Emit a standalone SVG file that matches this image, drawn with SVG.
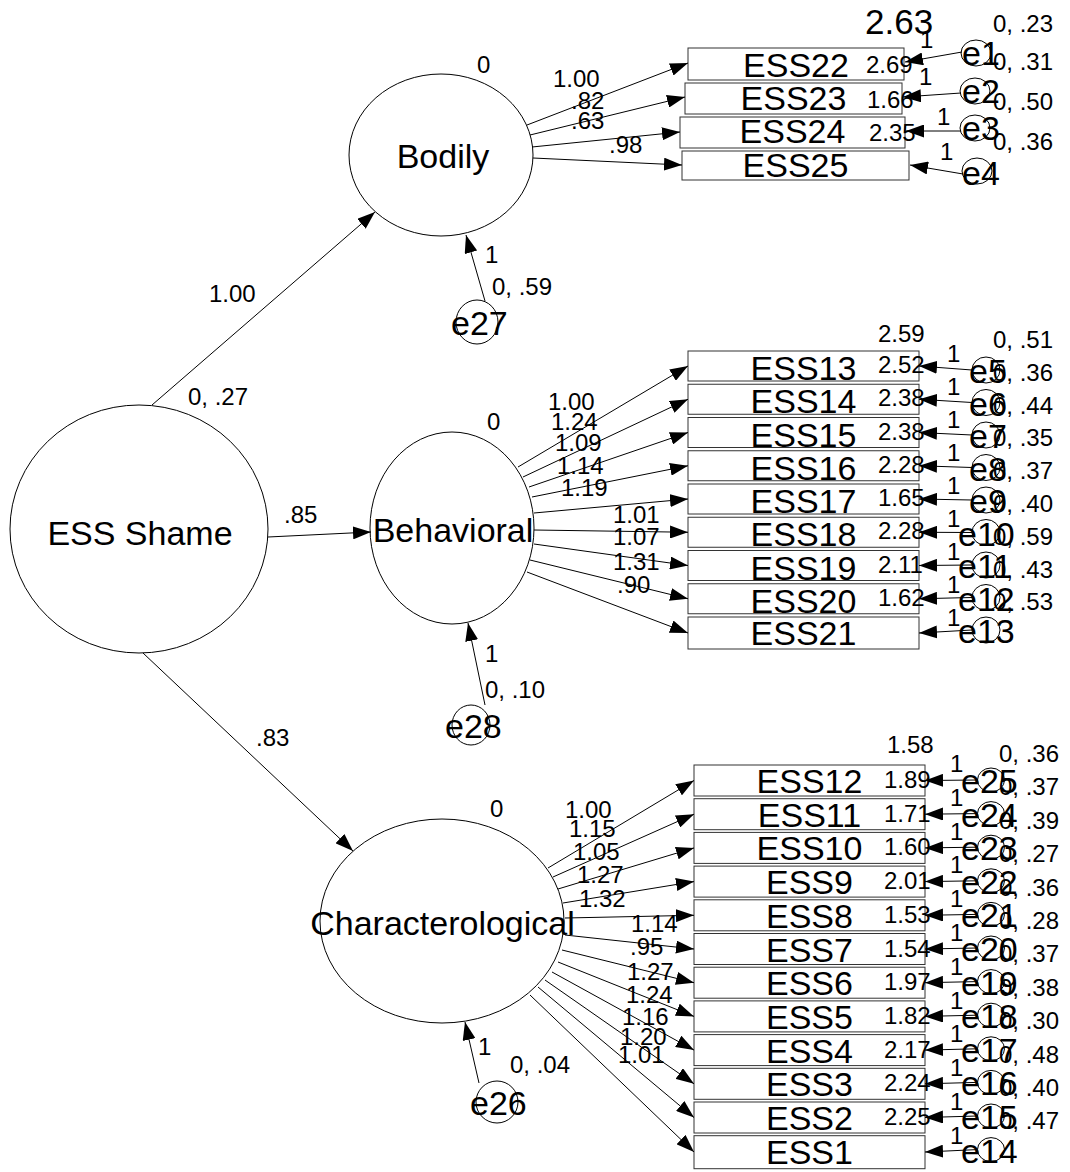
<svg xmlns="http://www.w3.org/2000/svg" width="1070" height="1172" viewBox="0 0 1070 1172">
<defs>
<marker id="ah" markerUnits="userSpaceOnUse" viewBox="0 0 18 13" refX="18" refY="6.5" markerWidth="18" markerHeight="13" orient="auto">
<path d="M0,0 L18,6.5 L0,13 z" fill="#000"/>
</marker>
<style>
text{font-family:"Liberation Sans",Arial,sans-serif;fill:#000}
.L{font-size:34px}
.s{font-size:24px}
.m{text-anchor:middle}
ellipse{fill:#fff;stroke:#000;stroke-width:1}
.eo{fill:none}
rect{fill:#fff;stroke:#333;stroke-width:1}
.c line{stroke:#000;stroke-width:1;marker-end:url(#ah)}
</style>
</defs>
<rect x="0" y="0" width="1070" height="1172" style="stroke:none;fill:#fff"/>

<!-- latent nodes -->
<g id="shame"><ellipse cx="139" cy="529" rx="129" ry="124"/><text class="L m" x="140" y="545">ESS Shame</text></g>
<g id="bodily"><ellipse cx="441" cy="155" rx="92" ry="81"/><text class="L m" x="443" y="168">Bodily</text></g>
<g id="behavioral"><ellipse cx="452" cy="528" rx="82" ry="96"/><text class="L m" x="453" y="542">Behavioral</text></g>
<g id="characterological"><ellipse cx="442" cy="921" rx="122" ry="102"/><text class="L m" x="442.5" y="935">Characterological</text></g>

<!-- boxes: Bodily -->
<g id="ESS22"><rect x="688" y="48" width="216" height="32"/><text class="L m" x="796" y="77">ESS22</text></g>
<g id="ESS23"><rect x="685" y="83" width="217" height="31"/><text class="L m" x="793.5" y="110">ESS23</text></g>
<g id="ESS24"><rect x="680" y="117" width="225" height="31"/><text class="L m" x="792.5" y="143">ESS24</text></g>
<g id="ESS25"><rect x="682" y="151" width="227" height="29"/><text class="L m" x="795.5" y="177">ESS25</text></g>

<!-- boxes: Behavioral -->
<g id="ESS13"><rect x="688" y="351" width="231" height="30"/><text class="L m" x="803.5" y="380">ESS13</text></g>
<g id="ESS14"><rect x="688" y="384.25" width="231" height="30"/><text class="L m" x="803.5" y="413">ESS14</text></g>
<g id="ESS15"><rect x="688" y="417.5" width="231" height="30"/><text class="L m" x="803.5" y="446.5">ESS15</text></g>
<g id="ESS16"><rect x="688" y="450.75" width="231" height="30"/><text class="L m" x="803.5" y="479.75">ESS16</text></g>
<g id="ESS17"><rect x="688" y="484" width="231" height="30"/><text class="L m" x="803.5" y="513">ESS17</text></g>
<g id="ESS18"><rect x="688" y="517.25" width="231" height="30"/><text class="L m" x="803.5" y="546.25">ESS18</text></g>
<g id="ESS19"><rect x="688" y="550.5" width="231" height="30"/><text class="L m" x="803.5" y="579.5">ESS19</text></g>
<g id="ESS20"><rect x="688" y="583.75" width="231" height="30"/><text class="L m" x="803.5" y="612.75">ESS20</text></g>
<g id="ESS21"><rect x="688" y="617" width="231" height="32"/><text class="L m" x="803.5" y="645">ESS21</text></g>

<!-- boxes: Characterological -->
<g id="ESS12"><rect x="694" y="765" width="231" height="31"/><text class="L m" x="809.5" y="793">ESS12</text></g>
<g id="ESS11"><rect x="694" y="798.7" width="231" height="31"/><text class="L m" x="809.5" y="826.7">ESS11</text></g>
<g id="ESS10"><rect x="694" y="832.4" width="231" height="31"/><text class="L m" x="809.5" y="860.4">ESS10</text></g>
<g id="ESS9"><rect x="694" y="866.1" width="231" height="31"/><text class="L m" x="809.5" y="894.1">ESS9</text></g>
<g id="ESS8"><rect x="694" y="899.8" width="231" height="31"/><text class="L m" x="809.5" y="927.8">ESS8</text></g>
<g id="ESS7"><rect x="694" y="933.5" width="231" height="31"/><text class="L m" x="809.5" y="961.5">ESS7</text></g>
<g id="ESS6"><rect x="694" y="967.2" width="231" height="31"/><text class="L m" x="809.5" y="995.2">ESS6</text></g>
<g id="ESS5"><rect x="694" y="1000.9" width="231" height="31"/><text class="L m" x="809.5" y="1028.9">ESS5</text></g>
<g id="ESS4"><rect x="694" y="1034.6" width="231" height="31"/><text class="L m" x="809.5" y="1062.6">ESS4</text></g>
<g id="ESS3"><rect x="694" y="1068.3" width="231" height="31"/><text class="L m" x="809.5" y="1096.3">ESS3</text></g>
<g id="ESS2"><rect x="694" y="1102" width="231" height="31"/><text class="L m" x="809.5" y="1130">ESS2</text></g>
<g id="ESS1"><rect x="694" y="1135.7" width="231" height="33"/><text class="L m" x="809.5" y="1164">ESS1</text></g>

<!-- connectors -->
<g id="connectors" class="c">
<line x1="152" y1="405" x2="375" y2="212"/>
<line x1="268" y1="537" x2="371" y2="532"/>
<line x1="143" y1="653" x2="353" y2="851"/>
<line x1="485" y1="301" x2="466" y2="235"/>
<line x1="485" y1="705" x2="468" y2="623"/>
<line x1="479" y1="1083" x2="465" y2="1022"/>
<!-- Bodily loadings -->
<line x1="527" y1="125" x2="688" y2="63"/>
<line x1="530" y1="135" x2="685" y2="97"/>
<line x1="532" y1="147" x2="680" y2="132"/>
<line x1="533" y1="158" x2="682" y2="165"/>
<!-- Bodily errors -->
<line x1="962" y1="52" x2="905" y2="62"/>
<line x1="961" y1="93" x2="903" y2="97"/>
<line x1="961" y1="131" x2="906" y2="131"/>
<line x1="963" y1="174" x2="910" y2="165"/>
<!-- Behavioral loadings -->
<line x1="518" y1="467" x2="688" y2="366"/>
<line x1="523" y1="477" x2="688" y2="399.25"/>
<line x1="529" y1="487" x2="688" y2="432.5"/>
<line x1="532" y1="497" x2="688" y2="465.75"/>
<line x1="534" y1="513" x2="688" y2="499"/>
<line x1="534" y1="530" x2="688" y2="532.25"/>
<line x1="534" y1="544" x2="688" y2="565.5"/>
<line x1="530" y1="560" x2="688" y2="598.75"/>
<line x1="527" y1="572" x2="688" y2="633"/>
<!-- Behavioral errors -->
<line x1="972" y1="370" x2="919" y2="366"/>
<line x1="972" y1="402.5" x2="919" y2="399.25"/>
<line x1="972" y1="435" x2="919" y2="432.5"/>
<line x1="972" y1="467.5" x2="919" y2="465.75"/>
<line x1="972" y1="500" x2="919" y2="499"/>
<line x1="972" y1="532.5" x2="919" y2="532.25"/>
<line x1="972" y1="565" x2="919" y2="565.5"/>
<line x1="972" y1="597.5" x2="919" y2="598.75"/>
<line x1="972" y1="630" x2="919" y2="633"/>
<!-- Characterological loadings -->
<line x1="548" y1="868" x2="694" y2="780.5"/>
<line x1="553" y1="877" x2="694" y2="814.2"/>
<line x1="558" y1="889" x2="694" y2="847.9"/>
<line x1="563" y1="903" x2="694" y2="881.6"/>
<line x1="565" y1="918" x2="694" y2="915.3"/>
<line x1="565" y1="935" x2="694" y2="949"/>
<line x1="562" y1="950" x2="694" y2="982.7"/>
<line x1="558" y1="962" x2="694" y2="1016.4"/>
<line x1="552" y1="972" x2="694" y2="1050.1"/>
<line x1="545" y1="980" x2="694" y2="1083.8"/>
<line x1="538" y1="987" x2="694" y2="1117.5"/>
<line x1="530" y1="995" x2="694" y2="1152"/>
<!-- Characterological errors -->
<line x1="977" y1="780" x2="925" y2="780.5"/>
<line x1="977" y1="813.6" x2="925" y2="814.2"/>
<line x1="977" y1="847.2" x2="925" y2="847.9"/>
<line x1="977" y1="880.8" x2="925" y2="881.6"/>
<line x1="977" y1="914.4" x2="925" y2="915.3"/>
<line x1="977" y1="948" x2="925" y2="949"/>
<line x1="977" y1="981.6" x2="925" y2="982.7"/>
<line x1="977" y1="1015.2" x2="925" y2="1016.4"/>
<line x1="977" y1="1048.8" x2="925" y2="1050.1"/>
<line x1="977" y1="1082.4" x2="925" y2="1083.8"/>
<line x1="977" y1="1116" x2="925" y2="1117.5"/>
<line x1="977" y1="1149.6" x2="925" y2="1152"/>
</g>

<!-- error nodes -->
<g id="e27"><ellipse class="eo" cx="477" cy="322" rx="21" ry="22"/><text class="L" x="451" y="335">e27</text></g>
<g id="e28"><ellipse class="eo" cx="471" cy="725" rx="19" ry="20"/><text class="L" x="445" y="738">e28</text></g>
<g id="e26"><ellipse class="eo" cx="497" cy="1102" rx="21" ry="21"/><text class="L" x="470" y="1115">e26</text></g>

<g id="e1"><ellipse class="eo" cx="976" cy="53" rx="15" ry="13"/><text class="L" x="962" y="65">e1</text></g>
<g id="e2"><ellipse class="eo" cx="975" cy="91" rx="15" ry="13"/><text class="L" x="962" y="103">e2</text></g>
<g id="e3"><ellipse class="eo" cx="975" cy="128" rx="15" ry="13"/><text class="L" x="962" y="140">e3</text></g>
<g id="e4"><ellipse class="eo" cx="977" cy="171" rx="15" ry="13"/><text class="L" x="962" y="185">e4</text></g>

<g id="e5"><ellipse class="eo" cx="986" cy="370" rx="14" ry="13"/><text class="L" x="969" y="383">e5</text></g>
<g id="e6"><ellipse class="eo" cx="986" cy="402.5" rx="14" ry="13"/><text class="L" x="969" y="415.5">e6</text></g>
<g id="e7"><ellipse class="eo" cx="986" cy="435" rx="14" ry="13"/><text class="L" x="969" y="448">e7</text></g>
<g id="e8"><ellipse class="eo" cx="986" cy="467.5" rx="14" ry="13"/><text class="L" x="969" y="480.5">e8</text></g>
<g id="e9"><ellipse class="eo" cx="986" cy="500" rx="14" ry="13"/><text class="L" x="969" y="513">e9</text></g>
<g id="e10"><ellipse class="eo" cx="986" cy="532.5" rx="14" ry="13"/><text class="L" x="958" y="545.5">e10</text></g>
<g id="e11"><ellipse class="eo" cx="986" cy="565" rx="14" ry="13"/><text class="L" x="958" y="578">e11</text></g>
<g id="e12"><ellipse class="eo" cx="986" cy="597.5" rx="14" ry="13"/><text class="L" x="958" y="610.5">e12</text></g>
<g id="e13"><ellipse class="eo" cx="986" cy="630" rx="14" ry="13"/><text class="L" x="958" y="643">e13</text></g>

<g id="e25"><ellipse class="eo" cx="991" cy="780" rx="13.5" ry="12"/><text class="L" x="961" y="793">e25</text></g>
<g id="e24"><ellipse class="eo" cx="991" cy="813.6" rx="13.5" ry="12"/><text class="L" x="961" y="826.6">e24</text></g>
<g id="e23"><ellipse class="eo" cx="991" cy="847.2" rx="13.5" ry="12"/><text class="L" x="961" y="860.2">e23</text></g>
<g id="e22"><ellipse class="eo" cx="991" cy="880.8" rx="13.5" ry="12"/><text class="L" x="961" y="893.8">e22</text></g>
<g id="e21"><ellipse class="eo" cx="991" cy="914.4" rx="13.5" ry="12"/><text class="L" x="961" y="927.4">e21</text></g>
<g id="e20"><ellipse class="eo" cx="991" cy="948" rx="13.5" ry="12"/><text class="L" x="961" y="961">e20</text></g>
<g id="e19"><ellipse class="eo" cx="991" cy="981.6" rx="13.5" ry="12"/><text class="L" x="961" y="994.6">e19</text></g>
<g id="e18"><ellipse class="eo" cx="991" cy="1015.2" rx="13.5" ry="12"/><text class="L" x="961" y="1028.2">e18</text></g>
<g id="e17"><ellipse class="eo" cx="991" cy="1048.8" rx="13.5" ry="12"/><text class="L" x="961" y="1061.8">e17</text></g>
<g id="e16"><ellipse class="eo" cx="991" cy="1082.4" rx="13.5" ry="12"/><text class="L" x="961" y="1095.4">e16</text></g>
<g id="e15"><ellipse class="eo" cx="991" cy="1116" rx="13.5" ry="12"/><text class="L" x="961" y="1129">e15</text></g>
<g id="e14"><ellipse class="eo" cx="991" cy="1149.6" rx="13.5" ry="12"/><text class="L" x="961" y="1162.6">e14</text></g>

<!-- parameter labels -->
<g id="labels" class="s">
<text class="s" x="209" y="302">1.00</text>
<text class="s" x="188" y="405">0, .27</text>
<text class="s" x="284" y="523">.85</text>
<text class="s" x="256" y="746">.83</text>
<text class="s" x="477" y="73">0</text>
<text class="s" x="487" y="430">0</text>
<text class="s" x="490" y="817">0</text>
<text class="s" x="485" y="263">1</text>
<text class="s" x="492" y="295">0, .59</text>
<text class="s" x="485" y="662">1</text>
<text class="s" x="485" y="698">0, .10</text>
<text class="s" x="478" y="1055">1</text>
<text class="s" x="510" y="1073">0, .04</text>

<text class="s" x="553" y="87">1.00</text>
<text class="s" x="571" y="109">.82</text>
<text class="s" x="571" y="129">.63</text>
<text class="s" x="609" y="153">.98</text>
<text style="font-size:35px" x="865" y="34">2.63</text>
<text class="s" x="866" y="73">2.69</text>
<text class="s" x="867" y="108">1.66</text>
<text class="s" x="869" y="141">2.35</text>
<text class="s" x="920" y="48">1</text>
<text class="s" x="919" y="85">1</text>
<text class="s" x="937" y="125">1</text>
<text class="s" x="940" y="160">1</text>
<text class="s" x="993" y="32">0, .23</text>
<text class="s" x="993" y="70">0, .31</text>
<text class="s" x="993" y="110">0, .50</text>
<text class="s" x="993" y="150">0, .36</text>

<text class="s" x="548" y="410">1.00</text>
<text class="s" x="551" y="430">1.24</text>
<text class="s" x="555" y="451">1.09</text>
<text class="s" x="557" y="474">1.14</text>
<text class="s" x="561" y="496">1.19</text>
<text class="s" x="613" y="523">1.01</text>
<text class="s" x="613" y="545">1.07</text>
<text class="s" x="613" y="570">1.31</text>
<text class="s" x="617" y="593">.90</text>
<text class="s" x="878" y="342">2.59</text>
<text class="s" x="878" y="373">2.52</text>
<text class="s" x="878" y="406.25">2.38</text>
<text class="s" x="878" y="439.5">2.38</text>
<text class="s" x="878" y="472.75">2.28</text>
<text class="s" x="878" y="506">1.65</text>
<text class="s" x="878" y="539.25">2.28</text>
<text class="s" x="878" y="572.5">2.11</text>
<text class="s" x="878" y="605.75">1.62</text>
<text class="s" x="947" y="362">1</text>
<text class="s" x="947" y="395">1</text>
<text class="s" x="947" y="428">1</text>
<text class="s" x="947" y="461">1</text>
<text class="s" x="947" y="494">1</text>
<text class="s" x="947" y="527">1</text>
<text class="s" x="947" y="560">1</text>
<text class="s" x="947" y="593">1</text>
<text class="s" x="947" y="626">1</text>
<text class="s" x="993" y="348">0, .51</text>
<text class="s" x="993" y="380.8">0, .36</text>
<text class="s" x="993" y="413.6">0, .44</text>
<text class="s" x="993" y="446.4">0, .35</text>
<text class="s" x="993" y="479.2">0, .37</text>
<text class="s" x="993" y="512">0, .40</text>
<text class="s" x="993" y="544.8">0, .59</text>
<text class="s" x="993" y="577.6">0, .43</text>
<text class="s" x="993" y="610.4">0, .53</text>

<text class="s" x="565" y="818">1.00</text>
<text class="s" x="569" y="837">1.15</text>
<text class="s" x="573" y="860">1.05</text>
<text class="s" x="577" y="883">1.27</text>
<text class="s" x="579" y="907">1.32</text>
<text class="s" x="631" y="932">1.14</text>
<text class="s" x="630" y="955">.95</text>
<text class="s" x="627" y="980">1.27</text>
<text class="s" x="626" y="1003">1.24</text>
<text class="s" x="622" y="1025">1.16</text>
<text class="s" x="620" y="1045">1.20</text>
<text class="s" x="618" y="1063">1.01</text>
<text class="s" x="887" y="753">1.58</text>
<text class="s" x="884" y="788">1.89</text>
<text class="s" x="884" y="821.7">1.71</text>
<text class="s" x="884" y="855.4">1.60</text>
<text class="s" x="884" y="889.1">2.01</text>
<text class="s" x="884" y="922.8">1.53</text>
<text class="s" x="884" y="956.5">1.54</text>
<text class="s" x="884" y="990.2">1.97</text>
<text class="s" x="884" y="1023.9">1.82</text>
<text class="s" x="884" y="1057.6">2.17</text>
<text class="s" x="884" y="1091.3">2.24</text>
<text class="s" x="884" y="1125">2.25</text>
<text class="s" x="950" y="772">1</text>
<text class="s" x="950" y="805.8">1</text>
<text class="s" x="950" y="839.6">1</text>
<text class="s" x="950" y="873.4">1</text>
<text class="s" x="950" y="907.2">1</text>
<text class="s" x="950" y="941">1</text>
<text class="s" x="950" y="974.8">1</text>
<text class="s" x="950" y="1008.6">1</text>
<text class="s" x="950" y="1042.4">1</text>
<text class="s" x="950" y="1076.2">1</text>
<text class="s" x="950" y="1110">1</text>
<text class="s" x="950" y="1143.8">1</text>
<text class="s" x="999" y="762">0, .36</text>
<text class="s" x="999" y="795.4">0, .37</text>
<text class="s" x="999" y="828.8">0, .39</text>
<text class="s" x="999" y="862.2">0, .27</text>
<text class="s" x="999" y="895.6">0, .36</text>
<text class="s" x="999" y="929">0, .28</text>
<text class="s" x="999" y="962.4">0, .37</text>
<text class="s" x="999" y="995.8">0, .38</text>
<text class="s" x="999" y="1029.2">0, .30</text>
<text class="s" x="999" y="1062.6">0, .48</text>
<text class="s" x="999" y="1096">0, .40</text>
<text class="s" x="999" y="1129.4">0, .47</text>
</g>
</svg>
